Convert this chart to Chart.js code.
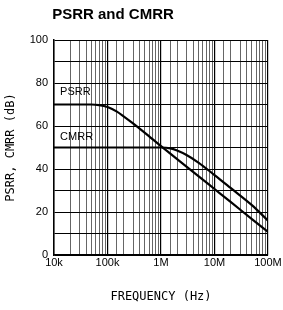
<!DOCTYPE html>
<html>
<head>
<meta charset="utf-8">
<script src="https://cdn.jsdelivr.net/npm/chart.js@4"></script>
<style>
  html, body { margin: 0; padding: 0; background: #fff; }
  #wrap { width: 283px; height: 310px; position: relative; }
</style>
</head>
<body>
<div id="wrap"><canvas id="chart" width="283" height="310"></canvas></div>
<script>
// values
const psrrFreq = [1e4, 5e4, 7e4, 1e5, 1.5e5, 2e5, 3e5, 5e5, 1e6, 2e6, 5e6, 1e7, 2e7, 5e7, 1e8];
const psrrDb   = [70, 70, 69.7, 68.8, 66.7, 64.5, 61.2, 56.8, 50.6, 44.6, 36.7, 30.7, 24.7, 16.7, 10.7];
const cmrrFreq = [1e4, 1e5, 1e6, 1.5e6, 2e6, 3e6, 5e6, 1e7, 2e7, 5e7, 1e8];
const cmrrDb   = [50, 50, 50, 49.6, 48.6, 46.5, 43, 37.2, 31.2, 23.2, 16];
const freqTickLabels = { 1e4: '10k', 1e5: '100k', 1e6: '1M', 1e7: '10M', 1e8: '100M' };
const seriesLabels = [
  { text: 'PSRR', freq: 1.3e4, db: 75.8 },
  { text: 'CMRR', freq: 1.3e4, db: 54.9 }
];

const isDecade = v => Math.abs(Math.log10(v) - Math.round(Math.log10(v))) < 1e-9;

const labelPlugin = {
  id: 'labels',
  afterDraw (chart) {
    const { ctx, scales } = chart;
    ctx.save();
    ctx.fillStyle = '#000';
    ctx.font = 'bold 15px "Liberation Sans", Arial, sans-serif';
    ctx.textAlign = 'center';
    ctx.textBaseline = 'middle';
    ctx.fillText('PSRR and CMRR', 113, 15);

    ctx.font = '11px "Liberation Sans", Arial, sans-serif';
    ctx.textAlign = 'left';
    seriesLabels.forEach(l => {
      ctx.fillText(l.text, scales.x.getPixelForValue(l.freq), scales.y.getPixelForValue(l.db));
    });
    ctx.restore();
  }
};

const tickFont = { family: '"Liberation Sans", Arial, sans-serif', size: 11 };
const titleFont = { family: '"DejaVu Sans Mono", monospace', size: 12 };

new Chart(document.getElementById('chart'), {
  type: 'line',
  data: {
    datasets: [
      {
        label: 'PSRR',
        data: psrrFreq.map((f, i) => ({ x: f, y: psrrDb[i] })),
        borderColor: '#000',
        borderWidth: 2.2,
        pointRadius: 0,
        fill: false,
        cubicInterpolationMode: 'monotone'
      },
      {
        label: 'CMRR',
        data: cmrrFreq.map((f, i) => ({ x: f, y: cmrrDb[i] })),
        borderColor: '#000',
        borderWidth: 2.2,
        pointRadius: 0,
        fill: false,
        cubicInterpolationMode: 'monotone'
      }
    ]
  },
  options: {
    responsive: false,
    animation: false,
    devicePixelRatio: 1,
    layout: { padding: { top: 40, right: 15, left: 0, bottom: 0 } },
    plugins: {
      legend: { display: false },
      title: { display: false },
      tooltip: { enabled: false }
    },
    scales: {
      x: {
        type: 'logarithmic',
        min: 1e4,
        max: 1e8,
        afterFit (scale) { scale.height = 55; },
        border: { color: '#000', width: 1.5 },
        grid: {
          drawTicks: false,
          color: ctx => (ctx.tick && isDecade(ctx.tick.value)) ? '#000' : '#666',
          lineWidth: ctx => (ctx.tick && isDecade(ctx.tick.value)) ? 1.2 : 1
        },
        ticks: {
          autoSkip: false,
          maxRotation: 0,
          padding: 1,
          color: '#000',
          font: tickFont,
          callback: v => freqTickLabels[v] || ''
        },
        title: {
          display: true,
          text: 'FREQUENCY (Hz)',
          color: '#000',
          font: titleFont,
          padding: { top: 0, bottom: 6 }
        }
      },
      y: {
        min: 0,
        max: 100,
        afterFit (scale) { scale.width = 54; },
        border: { color: '#000', width: 1.5 },
        grid: { drawTicks: false, color: '#000', lineWidth: 1 },
        ticks: {
          stepSize: 10,
          padding: 6,
          color: '#000',
          font: tickFont,
          callback: v => (v % 20 === 0 ? v : '')
        },
        title: {
          display: true,
          text: 'PSRR, CMRR (dB)',
          color: '#000',
          font: titleFont,
          padding: { top: 4, bottom: 0 }
        }
      }
    }
  },
  plugins: [labelPlugin]
});
</script>
</body>
</html>
